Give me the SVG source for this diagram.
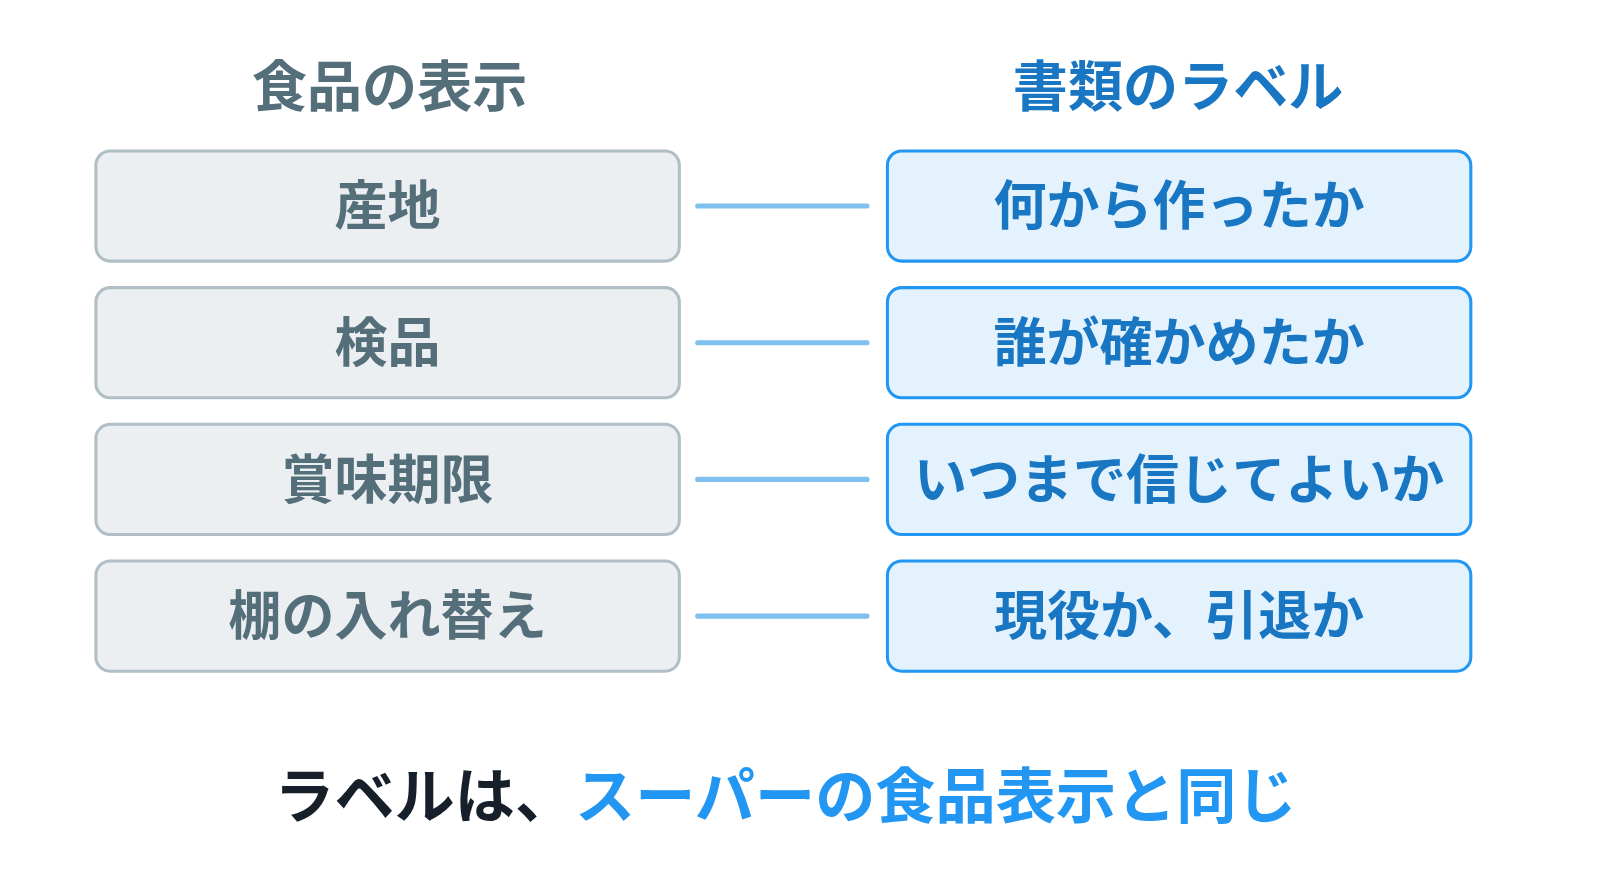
<svg xmlns="http://www.w3.org/2000/svg" width="1600" height="894" viewBox="0 0 1600 894">
<style>
text{font-family:"Noto Sans CJK JP","Noto Sans",sans-serif;font-weight:bold;text-anchor:middle}
.l rect{fill:#eceff1;stroke:#b0bec5;stroke-width:3}
.r rect{fill:#e3f2fd;stroke:#2196f3;stroke-width:3}
.l text{fill:#546e7a;font-size:52px}
.r text{fill:#1976c2;font-size:52px}
.c line{stroke:#7fc0ee;stroke-width:5;stroke-linecap:round}
</style>
<rect width="1600" height="894" fill="#fff"/>
<g transform="scale(1.02)">
<text x="382" y="104" font-size="54" fill="#546e7a">食品の表示</text>
<text x="1155" y="104" font-size="54" fill="#1976c2">書類のラベル</text>
<g id="l1" class="l"><rect x="94" y="148" width="572" height="108" rx="14"/><text x="380" y="221">産地</text></g>
<g id="l2" class="l"><rect x="94" y="282" width="572" height="108" rx="14"/><text x="380" y="355">検品</text></g>
<g id="l3" class="l"><rect x="94" y="416" width="572" height="108" rx="14"/><text x="380" y="489">賞味期限</text></g>
<g id="l4" class="l"><rect x="94" y="550" width="572" height="108" rx="14"/><text x="380" y="623">棚の入れ替え</text></g>
<g id="r1" class="r"><rect x="870" y="148" width="572" height="108" rx="14"/><text x="1156" y="221">何から作ったか</text></g>
<g id="r2" class="r"><rect x="870" y="282" width="572" height="108" rx="14"/><text x="1156" y="355">誰が確かめたか</text></g>
<g id="r3" class="r"><rect x="870" y="416" width="572" height="108" rx="14"/><text x="1156" y="489">いつまで信じてよいか</text></g>
<g id="r4" class="r"><rect x="870" y="550" width="572" height="108" rx="14"/><text x="1156" y="623">現役か、引退か</text></g>
<g id="connectors" class="c">
<line x1="684" y1="202" x2="850" y2="202"/>
<line x1="684" y1="336" x2="850" y2="336"/>
<line x1="684" y1="470" x2="850" y2="470"/>
<line x1="684" y1="604" x2="850" y2="604"/>
</g>
<text x="770" y="802" font-size="59"><tspan fill="#17202a">ラベルは、</tspan><tspan fill="#2196f3">スーパーの食品表示と同じ</tspan></text>
</g>
</svg>
